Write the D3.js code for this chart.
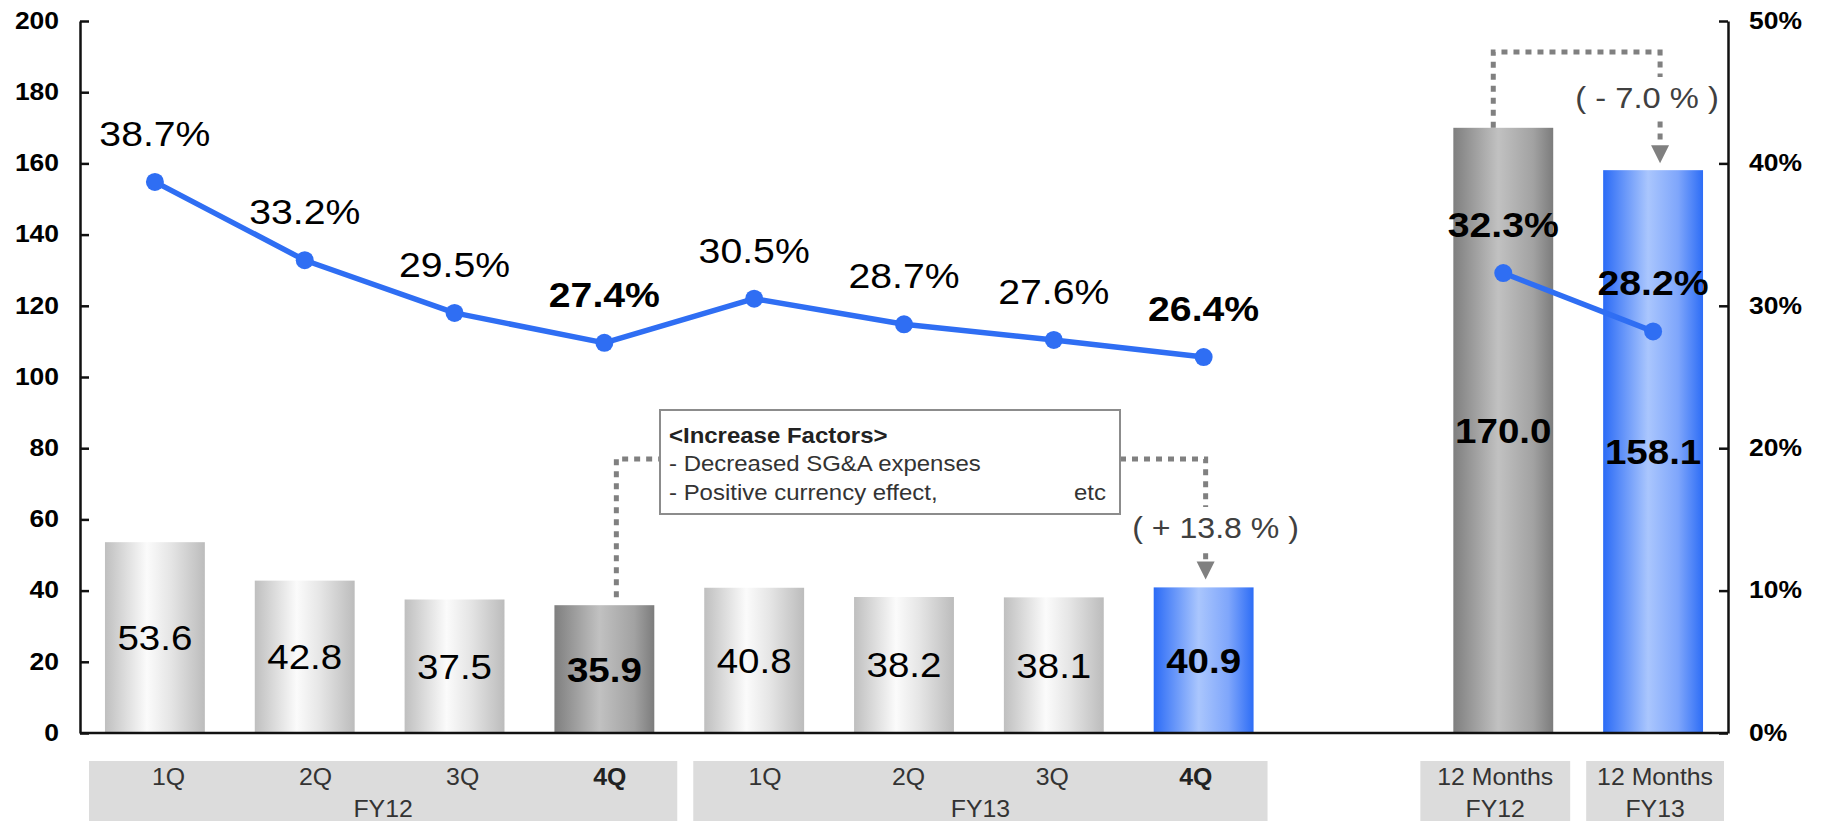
<!DOCTYPE html>
<html>
<head>
<meta charset="utf-8">
<script src="https://cdn.jsdelivr.net/npm/d3@7"></script>
<style>
  html, body { margin: 0; padding: 0; background: #fff; }
  svg { display: block; font-family: "Liberation Sans", Arial, sans-serif; }
</style>
</head>
<body>
<svg id="chart" width="1825" height="821"></svg>
<script>
// ---- data ----
const quarterNames = ["1Q", "2Q", "3Q", "4Q", "1Q", "2Q", "3Q", "4Q"];
const quarterYears = ["FY12", "FY12", "FY12", "FY12", "FY13", "FY13", "FY13", "FY13"];
const quarterValues = [53.6, 42.8, 37.5, 35.9, 40.8, 38.2, 38.1, 40.9];
const quarterRatios = [38.7, 33.2, 29.5, 27.4, 30.5, 28.7, 27.6, 26.4];
const annualYears = ["FY12", "FY13"];
const annualValues = [170.0, 158.1];
const annualRatios = [32.3, 28.2];
const leftTicks = [0, 20, 40, 60, 80, 100, 120, 140, 160, 180, 200];
const rightTicks = [0, 10, 20, 30, 40, 50];
const changeLabels = ["( + 13.8 % )", "( - 7.0 % )"];
const factorTitle = "<Increase Factors>";
const factorLines = ["- Decreased SG&A expenses", "- Positive currency effect,"];
const factorTail = "etc";

// ---- layout ----
const svg = d3.select("#chart");
const plotLeft = 80, plotRight = 1728, plotTop = 21, plotBase = 733;

const quarterKeys = quarterNames.map((q, i) => quarterYears[i] + "-" + q);
const annualKeys = annualYears.map(y => "12M-" + y);
const slots = [...quarterKeys, "gap", ...annualKeys];

const x = d3.scaleBand().domain(slots).range([plotLeft, plotRight])
  .paddingInner(1 / 3).paddingOuter(1 / 6);
const yL = d3.scaleLinear().domain([0, 200]).range([plotBase, plotTop]);
const yR = d3.scaleLinear().domain([0, 50]).range([plotBase, plotTop]);
const cx = k => x(k) + x.bandwidth() / 2;

// horizontal text widening, anchored at the text's x position
function widen(sel, k) {
  sel.each(function () {
    const t = d3.select(this);
    const tx = +t.attr("x") || 0;
    t.attr("transform", `translate(${tx * (1 - k)},0) scale(${k},1)`);
  });
}

// ---- gradients ----
const defs = svg.append("defs");
const grads = {
  light: [[0, "#bfbfbf"], [0.42, "#fbfbfb"], [0.65, "#e6e6e6"], [1, "#bcbcbc"]],
  dark: [[0, "#7f7f7f"], [0.45, "#c1c1c1"], [0.8, "#a2a2a2"], [1, "#7c7c7c"]],
  blue: [[0, "#2b6bf6"], [0.45, "#aac6fd"], [0.75, "#7fa6fb"], [1, "#2d6df6"]]
};
Object.entries(grads).forEach(([id, stops]) => {
  const g = defs.append("linearGradient").attr("id", "g-" + id)
    .attr("x1", 0).attr("x2", 1).attr("y1", 0).attr("y2", 0);
  stops.forEach(([o, c]) => g.append("stop").attr("offset", o).attr("stop-color", c));
});

// ---- bars ----
const bars = [
  ...quarterValues.map((v, i) => ({
    key: quarterKeys[i], value: v,
    fill: i === 3 ? "dark" : i === 7 ? "blue" : "light",
    bold: i === 3 || i === 7
  })),
  ...annualValues.map((v, i) => ({
    key: annualKeys[i], value: v,
    fill: i === 0 ? "dark" : "blue", bold: true
  }))
];

svg.append("g").selectAll("rect").data(bars).join("rect")
  .attr("x", d => x(d.key))
  .attr("y", d => yL(d.value))
  .attr("width", x.bandwidth())
  .attr("height", d => plotBase - yL(d.value))
  .attr("fill", d => `url(#g-${d.fill})`);

// ---- category bands below the axis ----
const bandTop = 761;
const slotStart = k => x(k) - x.step() * x.paddingInner() / 2;
const groups = [
  { keys: quarterKeys.slice(0, 4), title: "FY12", inset: [9, 2], shift: 6 },
  { keys: quarterKeys.slice(4, 8), title: "FY13", inset: [14, 11], shift: 0 },
  { keys: [annualKeys[0]], title: "FY12", inset: [-8, 8], annual: true },
  { keys: [annualKeys[1]], title: "FY13", inset: [8, 4], annual: true }
];
const gBand = svg.append("g");
groups.forEach(gr => {
  const x0 = slotStart(gr.keys[0]) + gr.inset[0];
  const x1 = slotStart(gr.keys[gr.keys.length - 1]) + x.step() - gr.inset[1];
  gBand.append("rect").attr("x", x0).attr("y", bandTop)
    .attr("width", x1 - x0).attr("height", 70).attr("fill", "#dcdcdc");
  const w = (x1 - x0) / gr.keys.length;
  if (gr.annual) {
    gBand.append("text").attr("x", (x0 + x1) / 2).attr("y", 785)
      .attr("text-anchor", "middle").attr("font-size", 23).attr("fill", "#333")
      .text("12 Months").call(widen, 1.08);
  } else {
    gr.keys.forEach((k, j) => {
      const idx = quarterKeys.indexOf(k);
      gBand.append("text").attr("x", x0 + w * (j + 0.5) + gr.shift).attr("y", 785)
        .attr("text-anchor", "middle").attr("font-size", 23)
        .attr("font-weight", idx === 3 || idx === 7 ? "bold" : "normal")
        .attr("fill", idx === 3 || idx === 7 ? "#222" : "#333")
        .text(quarterNames[idx]).call(widen, 1.08);
    });
  }
  gBand.append("text").attr("x", (x0 + x1) / 2).attr("y", 817)
    .attr("text-anchor", "middle").attr("font-size", 23).attr("fill", "#333")
    .text(gr.title).call(widen, 1.08);
});

// ---- axes ----
const axL = svg.append("g").attr("transform", `translate(${plotLeft},0)`)
  .call(d3.axisLeft(yL).tickValues(leftTicks).tickSizeInner(-9).tickSizeOuter(0).tickPadding(21));
const axR = svg.append("g").attr("transform", `translate(${plotRight},0)`)
  .call(d3.axisRight(yR).tickValues(rightTicks).tickFormat(d => d + "%")
    .tickSizeInner(-9).tickSizeOuter(0).tickPadding(21));
[axL, axR].forEach(ax => {
  ax.select(".domain").attr("stroke", "#111").attr("stroke-width", 2.5);
  ax.selectAll(".tick line").attr("stroke", "#111").attr("stroke-width", 2.5);
  ax.selectAll(".tick text").attr("font-size", 23).attr("font-weight", "bold")
    .attr("fill", "#000").attr("font-family", "Liberation Sans, Arial, sans-serif")
    .call(widen, 1.15);
});
svg.append("line").attr("x1", plotLeft).attr("x2", plotRight)
  .attr("y1", plotBase).attr("y2", plotBase)
  .attr("stroke", "#111").attr("stroke-width", 2.5);

// ---- value labels inside the bars ----
svg.append("g").selectAll("text").data(bars).join("text")
  .attr("x", d => cx(d.key))
  .attr("y", d => (yL(d.value) + plotBase) / 2 + 12.5)
  .attr("text-anchor", "middle")
  .attr("font-size", 35)
  .attr("font-weight", d => d.bold ? "bold" : "normal")
  .attr("fill", "#000")
  .text(d => d.value.toFixed(1))
  .call(widen, 1.1);

// ---- connectors and change annotations ----
const dotted = { stroke: "#808080", "stroke-width": 5, "stroke-dasharray": "6 6", fill: "none" };
const gAnn = svg.append("g");
function dottedPath(pts) {
  const p = gAnn.append("path").attr("d", d3.line()(pts));
  Object.entries(dotted).forEach(([k, v]) => p.attr(k, v));
}
function arrowHead(ax, tipY) {
  gAnn.append("path")
    .attr("d", `M${ax - 9},${tipY - 18} L${ax + 9},${tipY - 18} L${ax},${tipY} Z`)
    .attr("fill", "#808080");
}
function changeText(str, tx, baseline, k) {
  const t = gAnn.append("text").attr("x", tx).attr("y", baseline)
    .attr("text-anchor", "middle").attr("font-size", 30).attr("fill", "#404040").text(str);
  const bb = t.node().getBBox();
  const w = bb.width * k;
  gAnn.insert("rect", () => t.node())
    .attr("x", tx - w / 2 - 2).attr("y", bb.y - 4).attr("width", w + 4).attr("height", bb.height + 8)
    .attr("fill", "#fff");
  t.call(widen, k);
}

// factor box
const box = { x: 660, y: 410, w: 460, h: 104 };
const linkY = 459;
const q4a = quarterKeys[3], q4b = quarterKeys[7];
const fromX = x(q4a) + x.bandwidth() * 0.62;
const toX = cx(q4b) + 2;
dottedPath([[fromX, yL(quarterValues[3]) - 8], [fromX, linkY], [box.x, linkY]]);
dottedPath([[box.x + box.w, linkY], [toX, linkY], [toX, yL(quarterValues[7]) - 26]]);
arrowHead(toX, yL(quarterValues[7]) - 8);
changeText(changeLabels[0], toX + 10, 538, 1.07);

gAnn.append("rect").attr("x", box.x).attr("y", box.y).attr("width", box.w).attr("height", box.h)
  .attr("fill", "#fff").attr("stroke", "#8c8c8c").attr("stroke-width", 2);
gAnn.append("text").attr("x", box.x + 9).attr("y", 443).attr("font-size", 22)
  .attr("font-weight", "bold").attr("fill", "#222").text(factorTitle).call(widen, 1.09);
factorLines.forEach((s, i) => {
  gAnn.append("text").attr("x", box.x + 9).attr("y", 471 + i * 29).attr("font-size", 22)
    .attr("fill", "#333").text(s).call(widen, 1.09);
});
gAnn.append("text").attr("x", box.x + box.w - 14).attr("y", 500).attr("font-size", 22)
  .attr("text-anchor", "end").attr("fill", "#333").text(factorTail).call(widen, 1.09);

// annual comparison connector
const aFromX = cx(annualKeys[0]) - 10;
const aToX = cx(annualKeys[1]) + 7;
const linkTopY = 52;
dottedPath([[aFromX, yL(annualValues[0])], [aFromX, linkTopY], [aToX, linkTopY], [aToX, yL(annualValues[1]) - 25]]);
arrowHead(aToX, yL(annualValues[1]) - 7);
changeText(changeLabels[1], aToX - 13, 108, 1.09);

// ---- ratio lines ----
const blue = "#2f6ef3";
const qPts = quarterRatios.map((r, i) => ({ key: quarterKeys[i], r, bold: i === 3 || i === 7 }));
const aPts = annualRatios.map((r, i) => ({ key: annualKeys[i], r, bold: true }));
const ratioLine = d3.line().x(d => cx(d.key)).y(d => yR(d.r));
const gLine = svg.append("g");
[qPts, aPts].forEach(pts => {
  gLine.append("path").attr("d", ratioLine(pts)).attr("fill", "none")
    .attr("stroke", blue).attr("stroke-width", 5.5).attr("stroke-linejoin", "round");
});
gLine.selectAll("circle").data([...qPts, ...aPts]).join("circle")
  .attr("cx", d => cx(d.key)).attr("cy", d => yR(d.r)).attr("r", 9).attr("fill", blue);

gLine.selectAll("text").data([...qPts, ...aPts]).join("text")
  .attr("x", d => cx(d.key))
  .attr("y", d => yR(d.r) - 36)
  .attr("text-anchor", "middle")
  .attr("font-size", 35)
  .attr("font-weight", d => d.bold ? "bold" : "normal")
  .attr("fill", "#000")
  .text(d => d.r.toFixed(1) + "%")
  .call(widen, 1.12);
</script>
</body>
</html>
